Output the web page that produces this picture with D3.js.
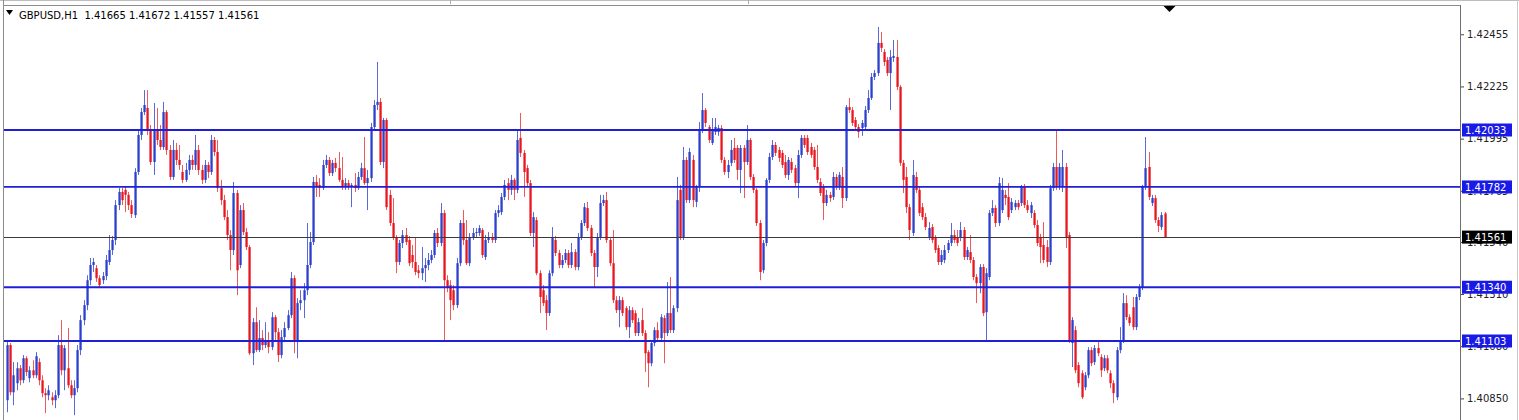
<!DOCTYPE html>
<html><head><meta charset="utf-8">
<script src="https://cdn.jsdelivr.net/npm/d3@7/dist/d3.min.js"></script>
<style>html,body{margin:0;padding:0;background:#fff;overflow:hidden}svg{display:block}</style>
</head><body><svg id="c" width="1519" height="420"></svg>
<script>
const symbolTitle = "GBPUSD,H1";
const lastQuote = ["1.41665", "1.41672", "1.41557", "1.41561"];
const axisTicks = [1.42455, 1.42225, 1.41995, 1.41765, 1.41540, 1.41310, 1.41080, 1.40850];
const levelLines = [1.42033, 1.41782, 1.41340, 1.41103];
const bidPrice = 1.41561;

const opens = [
1.40842,1.41085,1.40877,1.40917,1.40983,1.40930,1.41027,1.40939,
1.40974,1.40952,1.41010,1.40930,1.40873,1.40864,1.40855,1.40842,
1.40864,1.41085,1.40974,1.40983,1.40908,1.40864,1.40895,1.41063,1.41195,
1.41261,1.41371,1.41438,1.41424,1.41380,1.41371,1.41389,1.41451,
1.41504,1.41548,1.41702,1.41760,1.41769,1.41747,1.41702,1.41658,1.41848,
1.42011,1.42112,1.42130,1.42033,1.41892,1.42033,1.41989,1.41958,1.42112,1.41945,
1.41826,1.41945,1.41901,1.41848,1.41813,1.41857,1.41901,1.41879,1.41945,
1.41857,1.41813,1.41879,1.41848,1.41989,1.41936,1.41777,1.41724,1.41649,1.41570,
1.41504,1.41755,1.41438,1.41680,1.41583,1.41517,1.41049,1.41186,1.41063,1.41116,
1.41085,1.41107,1.41076,1.41208,1.41142,1.41041,1.41120,1.41160,1.41217,1.41380,
1.41107,1.41270,1.41283,1.41327,1.41438,1.41539,1.41804,1.41791,1.41777,1.41879,
1.41901,1.41843,1.41888,1.41865,1.41813,1.41782,1.41799,1.41782,1.41791,1.41777,
1.41826,1.41865,1.41799,1.41821,1.42046,1.42143,1.42157,1.41892,1.42077,1.41747,
1.41623,1.41557,1.41451,1.41535,1.41570,1.41548,1.41482,1.41451,1.41415,1.41402,
1.41424,1.41438,1.41460,1.41482,1.41579,1.41535,1.41667,1.41371,1.41349,1.41327,
1.41261,1.41446,1.41623,1.41548,1.41446,1.41561,1.41579,1.41579,1.41592,1.41473,
1.41548,1.41561,1.41548,1.41667,1.41671,1.41738,1.41799,1.41769,1.41813,1.41769,
1.41998,1.41932,1.41865,1.41799,1.41579,1.41636,1.41402,1.41327,1.41283,1.41226,
1.41402,1.41548,1.41491,1.41438,1.41460,1.41491,1.41438,1.41495,1.41429,1.41561,
1.41623,1.41689,1.41601,1.41491,1.41429,1.41561,1.41711,1.41724,1.41548,1.41446,
1.41283,1.41239,1.41283,1.41248,1.41164,1.41239,1.41226,1.41138,1.41195,1.41138,
1.41054,1.41005,1.41094,1.41151,1.41116,1.41204,1.41138,1.41226,1.41151,1.41248,
1.41769,1.41561,1.41901,1.41724,1.41901,1.41716,1.41782,1.42033,1.42121,1.42046,
1.41976,1.42024,1.42024,1.42042,1.41901,1.41848,1.41888,1.41954,1.41954,1.41857,
1.41954,1.41892,1.41989,1.41826,1.41769,1.41623,1.41415,1.41535,1.41813,1.41914,
1.41967,1.41945,1.41932,1.41892,1.41835,1.41892,1.41865,1.41799,1.41923,1.41998,
1.41998,1.41958,1.41945,1.41870,1.41804,1.41782,1.41711,1.41747,1.41738,1.41826,
1.41782,1.41826,1.41733,1.42134,1.42121,1.42077,1.42046,1.42042,1.42046,
1.42121,1.42174,1.42267,1.42284,1.42417,1.42377,1.42342,1.42284,1.42351,
1.42355,1.42223,1.41888,1.41826,1.41693,1.41579,1.41826,1.41769,1.41693,
1.41649,1.41557,1.41605,1.41557,1.41513,1.41451,1.41460,1.41504,1.41535,1.41570,
1.41561,1.41557,1.41592,1.41473,1.41495,1.41460,1.41385,1.41358,1.41429,1.41230,
1.41385,1.41667,1.41689,1.41623,1.41680,1.41747,1.41738,1.41680,1.41693,
1.41711,1.41711,1.41782,1.41702,1.41667,1.41667,1.41614,1.41561,
1.41526,1.41517,1.41451,1.41777,1.41870,1.41782,1.41782,1.41870,1.41570,1.41094,
1.41151,1.40997,1.40961,1.40899,1.40952,1.41063,1.41010,1.41072,
1.41032,1.40983,1.41027,1.40961,1.40917,1.40855,1.41063,1.41107,
1.41270,1.41208,1.41252,1.41164,1.41297,1.41341,1.41782,1.41870,1.41711,
1.41733,1.41636,1.41605,1.41665];

const highs = [
1.41107,1.41094,1.41010,1.41010,1.40997,1.41041,1.41036,1.40992,
1.41018,1.41054,1.41027,1.40952,1.40895,1.40908,1.40877,1.40886,
1.41129,1.41195,1.41085,1.41160,1.40930,1.40930,1.41085,1.41217,1.41283,
1.41393,1.41469,1.41469,1.41438,1.41393,1.41407,1.41482,1.41570,
1.41566,1.41724,1.41777,1.41777,1.41786,1.41760,1.41724,1.41865,1.42033,
1.42130,1.42209,1.42209,1.42055,1.42152,1.42130,1.42055,1.42157,1.42121,1.41967,
1.41989,1.41976,1.41967,1.41879,1.41888,1.41923,1.41923,1.42011,1.41967,
1.41879,1.41901,1.41892,1.42011,1.42002,1.41989,1.41813,1.41747,1.41680,1.41592,
1.41804,1.41769,1.41702,1.41711,1.41601,1.41526,1.41204,1.41252,1.41195,1.41151,
1.41186,1.41142,1.41230,1.41217,1.41160,1.41151,1.41186,1.41239,1.41407,1.41393,
1.41292,1.41327,1.41358,1.41623,1.41583,1.41826,1.41835,1.41821,1.41901,1.41923,
1.41914,1.41901,1.41910,1.41936,1.41914,1.41821,1.41813,1.41799,1.41843,1.41848,
1.41888,1.42002,1.41857,1.42064,1.42165,1.42333,1.42174,1.42086,1.42086,1.41769,
1.41733,1.41570,1.41548,1.41592,1.41601,1.41566,1.41526,1.41557,1.41438,1.41517,
1.41469,1.41491,1.41504,1.41592,1.41601,1.41711,1.41680,1.41393,1.41371,1.41349,
1.41469,1.41636,1.41680,1.41636,1.41579,1.41601,1.41601,1.41614,1.41601,1.41570,
1.41583,1.41579,1.41680,1.41702,1.41755,1.41813,1.41821,1.41835,1.41821,1.42033,
1.42108,1.41945,1.41879,1.41813,1.41671,1.41649,1.41415,1.41349,1.41305,1.41415,
1.41605,1.41566,1.41504,1.41482,1.41508,1.41504,1.41535,1.41508,1.41579,1.41636,
1.41711,1.41716,1.41614,1.41504,1.41579,1.41747,1.41747,1.41760,1.41561,1.41592,
1.41301,1.41301,1.41297,1.41257,1.41257,1.41252,1.41239,1.41204,1.41248,1.41151,
1.41063,1.41107,1.41164,1.41186,1.41221,1.41217,1.41363,1.41385,1.41261,1.41826,
1.41791,1.41958,1.41914,1.41954,1.41923,1.41791,1.42068,1.42196,1.42130,1.42055,
1.42086,1.42086,1.42055,1.42055,1.41914,1.41901,1.41989,1.41998,1.41967,1.41967,
1.41967,1.42055,1.41998,1.41839,1.41777,1.41636,1.41548,1.41821,1.41932,1.41989,
1.41980,1.41958,1.41945,1.41923,1.41914,1.41910,1.41879,1.41945,1.42011,1.42011,
1.42011,1.41976,1.41958,1.41967,1.41821,1.41795,1.41769,1.41760,1.41848,1.41839,
1.41848,1.41870,1.42143,1.42174,1.42134,1.42090,1.42059,1.42077,1.42139,
1.42209,1.42284,1.42298,1.42487,1.42465,1.42390,1.42355,1.42386,1.42430,
1.42430,1.42231,1.41901,1.41870,1.41707,1.41901,1.41848,1.41782,1.41711,
1.41667,1.41627,1.41619,1.41570,1.41526,1.41504,1.41526,1.41548,1.41623,1.41592,
1.41592,1.41627,1.41605,1.41517,1.41570,1.41473,1.41398,1.41442,1.41442,1.41424,
1.41680,1.41724,1.41702,1.41826,1.41821,1.41769,1.41799,1.41733,1.41724,
1.41724,1.41791,1.41795,1.41724,1.41716,1.41680,1.41636,1.41575,
1.41627,1.41548,1.41791,1.41888,1.42033,1.41888,1.41945,1.41888,1.41583,1.41208,
1.41169,1.41010,1.40974,1.40966,1.41076,1.41076,1.41085,1.41107,
1.41045,1.41041,1.41041,1.40974,1.40930,1.41076,1.41164,1.41314,
1.41305,1.41221,1.41297,1.41310,1.41354,1.41791,1.42002,1.41936,1.41747,
1.41747,1.41649,1.41671,1.41672];

const lows = [
1.40789,1.40864,1.40820,1.40886,1.40908,1.40917,1.40948,1.40921,
1.40939,1.40939,1.40908,1.40855,1.40785,1.40842,1.40820,1.40807,
1.40851,1.40952,1.40886,1.40895,1.40851,1.40776,1.40877,1.41041,1.41173,
1.41239,1.41349,1.41407,1.41363,1.41336,1.41354,1.41371,1.41438,
1.41482,1.41526,1.41680,1.41702,1.41671,1.41680,1.41645,1.41645,1.41835,
1.41989,1.42099,1.42011,1.41879,1.41835,1.41967,1.41945,1.41945,1.41923,1.41813,
1.41813,1.41879,1.41857,1.41799,1.41804,1.41835,1.41857,1.41857,1.41835,
1.41795,1.41799,1.41821,1.41835,1.41918,1.41760,1.41702,1.41636,1.41548,1.41415,
1.41482,1.41305,1.41424,1.41570,1.41504,1.41041,1.40997,1.41054,1.41054,1.41063,
1.41072,1.41049,1.41063,1.41107,1.41010,1.41027,1.41098,1.41151,1.41204,1.41049,
1.41027,1.41239,1.41204,1.41305,1.41424,1.41526,1.41738,1.41738,1.41769,1.41865,
1.41830,1.41830,1.41848,1.41804,1.41769,1.41769,1.41769,1.41693,1.41760,1.41769,
1.41813,1.41791,1.41680,1.41804,1.42033,1.42121,1.41879,1.41865,1.41680,1.41610,
1.41548,1.41402,1.41438,1.41513,1.41526,1.41433,1.41424,1.41393,1.41380,1.41371,
1.41363,1.41415,1.41446,1.41469,1.41517,1.41521,1.41107,1.41318,1.41195,1.41239,
1.41248,1.41433,1.41526,1.41438,1.41433,1.41548,1.41561,1.41566,1.41469,1.41460,
1.41535,1.41535,1.41535,1.41649,1.41658,1.41724,1.41724,1.41747,1.41724,1.41755,
1.41914,1.41738,1.41782,1.41566,1.41517,1.41393,1.41226,1.41257,1.41151,1.41213,
1.41389,1.41477,1.41424,1.41424,1.41446,1.41424,1.41424,1.41415,1.41415,1.41548,
1.41610,1.41588,1.41477,1.41336,1.41385,1.41548,1.41698,1.41535,1.41433,1.41270,
1.41226,1.41164,1.41213,1.41151,1.41116,1.41182,1.41125,1.41125,1.41125,1.40966,
1.40899,1.40992,1.41080,1.41103,1.41103,1.41005,1.41125,1.41138,1.41138,1.41230,
1.41548,1.41548,1.41711,1.41711,1.41693,1.41693,1.41760,1.42020,1.42046,1.41976,
1.41967,1.42011,1.42007,1.41888,1.41835,1.41821,1.41874,1.41888,1.41813,1.41755,
1.41733,1.41879,1.41813,1.41755,1.41610,1.41371,1.41402,1.41521,1.41799,1.41901,
1.41918,1.41892,1.41865,1.41821,1.41813,1.41843,1.41786,1.41733,1.41910,1.41954,
1.41923,1.41910,1.41857,1.41799,1.41742,1.41636,1.41698,1.41716,1.41724,1.41769,
1.41769,1.41689,1.41720,1.42108,1.42051,1.42033,1.41998,1.42007,1.42033,
1.42108,1.42165,1.42253,1.42271,1.42377,1.42315,1.42271,1.42121,1.42333,
1.42209,1.41874,1.41755,1.41667,1.41548,1.41566,1.41755,1.41654,1.41636,
1.41592,1.41548,1.41535,1.41491,1.41438,1.41438,1.41446,1.41491,1.41521,1.41535,
1.41521,1.41543,1.41460,1.41460,1.41446,1.41371,1.41270,1.41314,1.41213,1.41107,
1.41371,1.41654,1.41605,1.41610,1.41667,1.41702,1.41636,1.41667,1.41680,
1.41680,1.41698,1.41689,1.41667,1.41645,1.41601,1.41521,1.41446,
1.41446,1.41429,1.41438,1.41764,1.41769,1.41769,1.41760,1.41513,1.41094,1.40988,
1.40961,1.40899,1.40847,1.40886,1.40939,1.40992,1.40997,1.41036,
1.40944,1.40970,1.40961,1.40895,1.40829,1.40842,1.41049,1.41094,
1.41195,1.41169,1.41151,1.41151,1.41283,1.41327,1.41769,1.41724,1.41698,
1.41623,1.41583,1.41592,1.41557];

const closes = [
1.41085,1.40877,1.40952,1.40983,1.40930,1.41027,1.40966,1.40974,
1.40952,1.41036,1.40930,1.40873,1.40864,1.40886,1.40842,1.40864,
1.41085,1.40974,1.41072,1.40908,1.40864,1.40895,1.41063,1.41195,1.41261,
1.41371,1.41438,1.41451,1.41380,1.41349,1.41389,1.41460,1.41504,
1.41548,1.41702,1.41760,1.41724,1.41747,1.41702,1.41663,1.41848,1.42011,
1.42112,1.42143,1.42033,1.41892,1.42033,1.41989,1.41958,1.42112,1.41945,1.41826,
1.41945,1.41901,1.41879,1.41813,1.41857,1.41901,1.41879,1.41945,1.41857,
1.41813,1.41879,1.41848,1.41989,1.41936,1.41777,1.41724,1.41649,1.41570,1.41504,
1.41755,1.41415,1.41680,1.41583,1.41517,1.41049,1.41186,1.41063,1.41116,1.41085,
1.41107,1.41076,1.41208,1.41142,1.41041,1.41120,1.41160,1.41217,1.41380,1.41107,
1.41270,1.41283,1.41327,1.41438,1.41539,1.41804,1.41782,1.41777,1.41879,1.41901,
1.41843,1.41888,1.41865,1.41813,1.41782,1.41799,1.41782,1.41791,1.41777,1.41826,
1.41865,1.41799,1.41821,1.42046,1.42143,1.42157,1.41892,1.42077,1.41693,1.41623,
1.41557,1.41451,1.41535,1.41570,1.41539,1.41446,1.41451,1.41407,1.41402,1.41424,
1.41438,1.41460,1.41482,1.41579,1.41535,1.41667,1.41371,1.41341,1.41283,1.41261,
1.41446,1.41623,1.41548,1.41446,1.41561,1.41579,1.41583,1.41601,1.41482,1.41548,
1.41561,1.41548,1.41667,1.41680,1.41738,1.41791,1.41769,1.41813,1.41769,1.41989,
1.41932,1.41848,1.41799,1.41579,1.41649,1.41402,1.41297,1.41270,1.41226,1.41402,
1.41557,1.41491,1.41438,1.41460,1.41491,1.41438,1.41495,1.41429,1.41561,1.41623,
1.41693,1.41601,1.41491,1.41429,1.41561,1.41711,1.41724,1.41548,1.41446,1.41283,
1.41239,1.41283,1.41226,1.41164,1.41239,1.41195,1.41138,1.41186,1.41138,1.41049,
1.41005,1.41094,1.41151,1.41116,1.41208,1.41138,1.41226,1.41151,1.41248,1.41724,
1.41561,1.41901,1.41724,1.41936,1.41724,1.41782,1.42033,1.42121,1.42064,1.41989,
1.42033,1.42046,1.42042,1.41901,1.41848,1.41879,1.41945,1.41901,1.41857,1.41954,
1.41892,1.41989,1.41826,1.41769,1.41623,1.41407,1.41535,1.41813,1.41914,1.41967,
1.41932,1.41910,1.41879,1.41835,1.41901,1.41857,1.41799,1.41923,1.41998,1.41967,
1.41936,1.41923,1.41870,1.41813,1.41755,1.41711,1.41747,1.41733,1.41826,1.41782,
1.41835,1.41733,1.42134,1.42121,1.42064,1.42046,1.42024,1.42064,1.42121,
1.42174,1.42267,1.42284,1.42417,1.42395,1.42333,1.42284,1.42355,1.42359,
1.42223,1.41888,1.41813,1.41693,1.41592,1.41835,1.41769,1.41667,1.41649,
1.41605,1.41601,1.41548,1.41504,1.41451,1.41482,1.41504,1.41535,1.41570,1.41548,
1.41535,1.41592,1.41473,1.41504,1.41460,1.41385,1.41358,1.41429,1.41226,1.41402,
1.41667,1.41689,1.41623,1.41799,1.41769,1.41733,1.41649,1.41716,1.41711,
1.41693,1.41782,1.41702,1.41680,1.41702,1.41614,1.41535,1.41517,
1.41460,1.41451,1.41777,1.41870,1.41782,1.41870,1.41870,1.41561,1.41107,1.41195,
1.40974,1.40917,1.40855,1.40952,1.41063,1.41005,1.41072,1.41049,
1.40974,1.41027,1.40974,1.40917,1.40873,1.41063,1.41107,1.41270,
1.41208,1.41182,1.41164,1.41297,1.41341,1.41782,1.41865,1.41738,1.41733,
1.41636,1.41610,1.41658,1.41561];

const W = 1519, H = 420;
const plot = {left: 4, right: 1460, top: 6, bottom: 420};
const svg = d3.select("#c");
const n = Math.min(opens.length, highs.length, lows.length, closes.length);
const idx = d3.range(n);

const x = d3.scaleLinear().domain([0, n - 1]).range([7, 1164.5]);
const y = d3.scaleLinear().domain([1.41103, 1.42033]).range([341, 130]);

const BULL = "#2b40cc", BEAR = "#e8161e";
const BULL_WICK = "#5a6ad8", BEAR_WICK = "#ee5a5a";
const FONT = "DejaVu Sans, Verdana, sans-serif";

// frame
svg.append("rect").attr("x", 0).attr("y", 0).attr("width", W).attr("height", H).attr("fill", "#fff");
svg.append("line").attr("x1", 0).attr("x2", W).attr("y1", 0.5).attr("y2", 0.5).attr("stroke", "#bdbdbd");
svg.append("line").attr("x1", 3.5).attr("x2", 3.5).attr("y1", 0).attr("y2", H).attr("stroke", "#8c8c8c");
svg.append("line").attr("x1", 3.5).attr("x2", plot.right + 0.5).attr("y1", 5.5).attr("y2", 5.5).attr("stroke", "#8c8c8c");
svg.append("line").attr("x1", plot.right + 0.5).attr("x2", plot.right + 0.5).attr("y1", 5).attr("y2", H).attr("stroke", "#6e6e6e");
svg.append("line").attr("x1", W - 1.5).attr("x2", W - 1.5).attr("y1", 0).attr("y2", H).attr("stroke", "#c8c8c8");

const g = svg.append("g");
// candles
const cg = g.selectAll("g.cdl").data(idx).join("g").attr("class", "cdl");
cg.append("line")
  .attr("x1", i => Math.round(x(i)) + 0.5).attr("x2", i => Math.round(x(i)) + 0.5)
  .attr("y1", i => y(highs[i])).attr("y2", i => y(lows[i]))
  .attr("stroke", i => closes[i] >= opens[i] ? BULL_WICK : BEAR_WICK).attr("stroke-width", 1);
cg.append("rect")
  .attr("x", i => Math.round(x(i)) - 0.6).attr("width", 2.3)
  .attr("y", i => y(Math.max(opens[i], closes[i])))
  .attr("height", i => Math.max(1, Math.abs(y(opens[i]) - y(closes[i]))))
  .attr("fill", i => closes[i] >= opens[i] ? BULL : BEAR);

// level lines
g.selectAll("line.lvl").data(levelLines).join("line").attr("class", "lvl")
  .attr("x1", plot.left).attr("x2", plot.right)
  .attr("y1", d => y(d)).attr("y2", d => y(d))
  .attr("stroke", "#1f1fd6").attr("stroke-width", 1.8);
g.append("line").attr("x1", plot.left).attr("x2", plot.right)
  .attr("y1", Math.round(y(bidPrice)) + 0.5).attr("y2", Math.round(y(bidPrice)) + 0.5)
  .attr("stroke", "#3a3a3a").attr("stroke-width", 1);

// right axis
const axis = d3.axisRight(y).tickValues(axisTicks).tickSize(3).tickPadding(3)
  .tickFormat(d3.format(".5f"));
const ax = svg.append("g").attr("transform", `translate(${plot.right + 1},0)`).call(axis);
ax.select(".domain").remove();
ax.selectAll("text").attr("font-family", FONT).attr("font-size", 10).attr("fill", "#222");
ax.selectAll("line").attr("stroke", "#444");

// price tags (drawn over the axis labels, as in the terminal)
function tag(v, fill) {
  const yy = y(v);
  const gg = svg.append("g");
  gg.append("rect").attr("x", plot.right + 2).attr("y", yy - 6.5).attr("width", 50).attr("height", 13).attr("fill", fill);
  gg.append("text").attr("x", plot.right + 5).attr("y", yy + 4).attr("fill", "#fff")
    .attr("font-family", FONT).attr("font-size", 10).text(d3.format(".5f")(v));
}
levelLines.forEach(v => tag(v, "#1a1ae6"));
tag(bidPrice, "#000");

// header
svg.append("path").attr("d", "M6,10 L13,10 L9.5,15 Z").attr("fill", "#000");
svg.append("text").attr("x", 19).attr("y", 19).attr("font-family", FONT)
  .attr("font-size", 10).attr("fill", "#000").style("white-space", "pre")
  .text(symbolTitle + "  " + lastQuote.join(" "));
// shift marker
svg.append("path").attr("d", `M${x(n - 1) - 1},6 L${x(n - 1) + 11},6 L${x(n - 1) + 5},12 Z`).attr("fill", "#000");
// top window ticks
[450, 748].forEach(v => svg.append("line").attr("x1", v + 0.5).attr("x2", v + 0.5).attr("y1", 0).attr("y2", 4).attr("stroke", "#aaa"));
</script></body></html>
